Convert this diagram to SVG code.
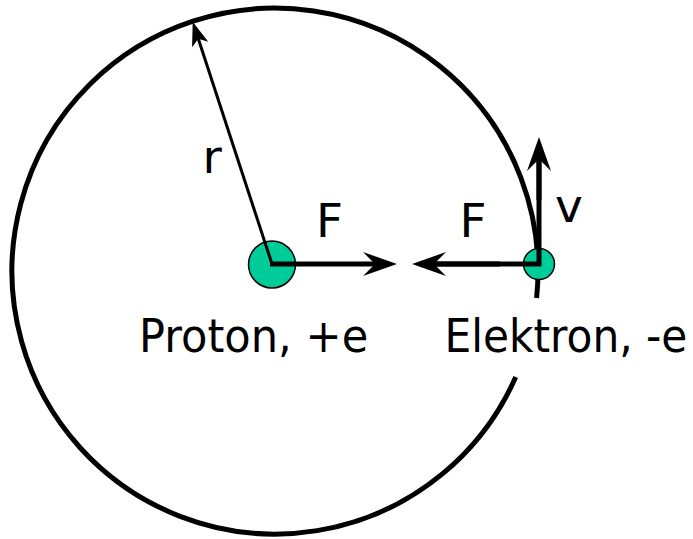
<svg xmlns="http://www.w3.org/2000/svg" width="693" height="539" viewBox="0 0 693 539">
<style>
.lbl{font-family:"DejaVu Sans","Liberation Sans",sans-serif;font-size:47px;fill:#000}
.orbit{fill:none;stroke:#000;stroke-width:5}
.vec{fill:none;stroke:#000;stroke-width:5}
.rad{fill:none;stroke:#000;stroke-width:3}
.particle{fill:#00CC99;stroke:#000;stroke-width:1.5}
</style>
<defs>
<marker id="bigHead" markerUnits="userSpaceOnUse" refX="0" refY="0" markerWidth="40" markerHeight="30" orient="auto" overflow="visible">
<path d="M22,0 L-12,-12 L0,0 L-12,12 Z" fill="#000"/>
</marker>
<marker id="smallHead" markerUnits="userSpaceOnUse" refX="0" refY="0" markerWidth="30" markerHeight="20" orient="auto" overflow="visible">
<path d="M18,0 L-6,-8.5 L0,0 L-6,8.5 Z" fill="#000"/>
</marker>
</defs>
<g id="orbit">
<path class="orbit" d="M536.6 298 A263 263 0 1 0 515.7 377"/>
</g>
<g id="proton">
<circle class="particle" cx="272" cy="264.5" r="23.5"/>
</g>
<g id="electron">
<circle class="particle" cx="539" cy="264" r="15.5"/>
</g>
<g id="connectors">
<line class="rad" x1="272" y1="264" x2="198.3" y2="38.8" marker-end="url(#smallHead)"/>
<line class="vec" x1="270" y1="264" x2="375" y2="264" marker-end="url(#bigHead)"/>
<path class="vec" d="M434 264 L539 264 L539 159" stroke-linejoin="miter"/>
<line class="vec" x1="500" y1="264" x2="434" y2="264" marker-end="url(#bigHead)"/>
<line class="vec" x1="539" y1="200" x2="539" y2="159" marker-end="url(#bigHead)"/>
</g>
<g id="labels">
<text class="lbl" x="202.4" y="173">r</text>
<text class="lbl" x="316" y="237.3">F</text>
<text class="lbl" x="459.5" y="237.3">F</text>
<text class="lbl" x="555" y="221.7">v</text>
<text class="lbl" transform="translate(139 351.7) scale(0.918 1)">Proton, +e</text>
<text class="lbl" transform="translate(444.5 351.7) scale(0.9 1)">Elektron, -e</text>
</g>
</svg>
